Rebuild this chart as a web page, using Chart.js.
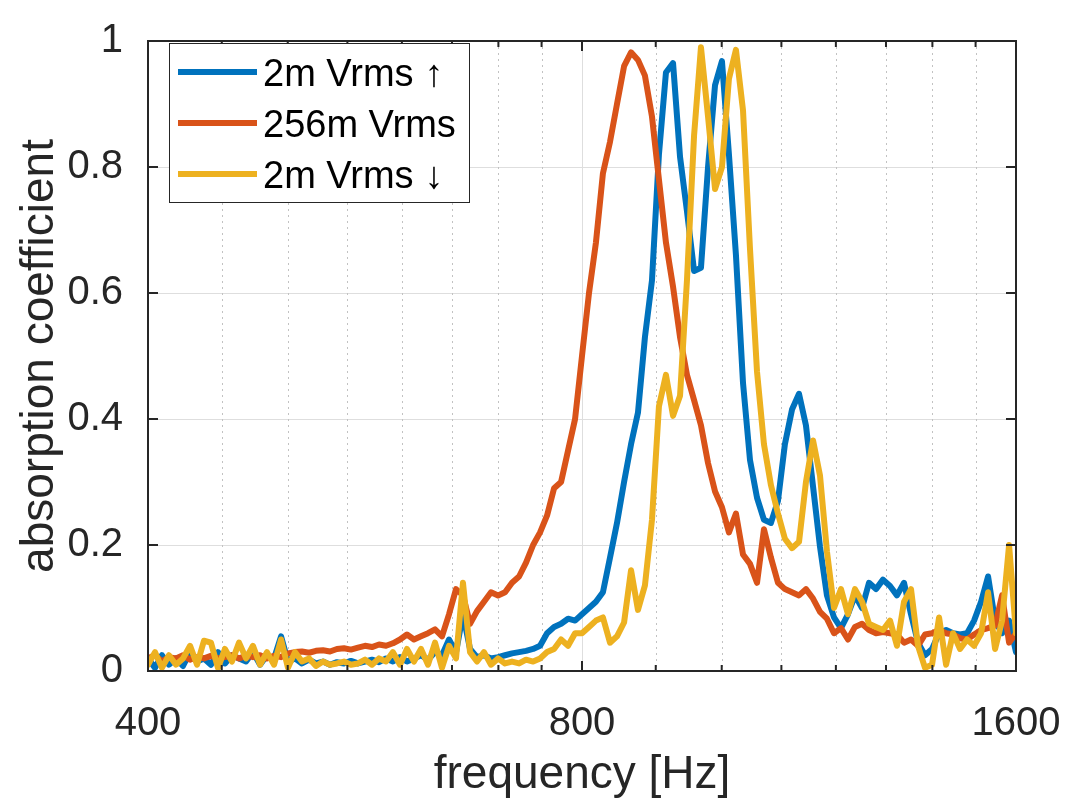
<!DOCTYPE html>
<html>
<head>
<meta charset="utf-8">
<script src="https://cdn.jsdelivr.net/npm/chart.js@4.4.1/dist/chart.umd.min.js"></script>
<style>
  html, body { margin: 0; padding: 0; background: #fff; }
  #wrap { width: 1089px; height: 798px; }
</style>
</head>
<body>
<div id="wrap"><canvas id="chartAbs" width="1089" height="798"></canvas></div>
<script>
// frequency grid [Hz] shared by the three measurements
const freq = [
  400, 404.5, 409, 413.6, 418.3, 423, 427.8, 432.6, 437.4, 442.3,
  447.3, 452.3, 457.4, 462.6, 467.8, 473, 478.4, 483.7, 489.2, 494.7,
  500.2, 505.8, 511.5, 517.3, 523.1, 529, 534.9, 540.9, 547, 553.1,
  559.4, 565.7, 572, 578.5, 585, 591.5, 598.2, 604.9, 611.7, 618.6,
  625.6, 632.6, 639.7, 646.9, 654.2, 661.5, 669, 676.5, 684.1, 691.8,
  699.6, 707.5, 715.4, 723.5, 731.6, 739.9, 748.2, 756.6, 765.1, 773.7,
  782.4, 791.2, 800, 809, 818, 827.2, 836.6, 846, 855.6, 865.2,
  874.8, 884.6, 894.6, 904.6, 914.8, 925.2, 935.6, 946, 956.8, 967.4,
  978.4, 989.4, 1000.4, 1011.6, 1023, 1034.6, 1046.2, 1058, 1069.8, 1081.8,
  1094, 1106.2, 1118.8, 1131.4, 1144, 1157, 1170, 1183, 1196.4, 1209.8,
  1223.4, 1237.2, 1251.2, 1265.2, 1279.4, 1293.8, 1308.4, 1323, 1338, 1353,
  1368.2, 1383.6, 1399.2, 1415, 1431, 1447, 1463.2, 1479.8, 1496.4, 1513.2,
  1530.2, 1547.4, 1564.8, 1582.4, 1600
];

// 2m Vrms, sweep up
const up2m = [
  0.02, 0.005, 0.025, 0.01, 0.02, 0.008, 0.03, 0.015, 0.02, 0.01,
  0.03, 0.012, 0.025, 0.02, 0.015, 0.03, 0.01, 0.025, 0.02, 0.055,
  0.015, 0.02, 0.012, 0.018, 0.012, 0.015, 0.01, 0.014, 0.012, 0.016,
  0.012, 0.015, 0.018, 0.014, 0.02, 0.015, 0.022, 0.015, 0.02, 0.025,
  0.018, 0.03, 0.025, 0.05, 0.03, 0.09, 0.035, 0.022, 0.025, 0.02,
  0.022, 0.025, 0.028, 0.03, 0.032, 0.035, 0.04, 0.06, 0.07, 0.075,
  0.083, 0.08, 0.09, 0.1, 0.11, 0.125, 0.18, 0.235, 0.3, 0.36,
  0.41, 0.53, 0.62, 0.82, 0.95, 0.965, 0.816, 0.73, 0.635, 0.64,
  0.8, 0.93, 0.968, 0.82, 0.66, 0.457, 0.335, 0.275, 0.24, 0.235,
  0.27, 0.36, 0.415, 0.44, 0.39, 0.293, 0.197, 0.12, 0.085, 0.068,
  0.09, 0.12, 0.1, 0.14, 0.13, 0.145, 0.135, 0.12, 0.14, 0.09,
  0.045, 0.025, 0.035, 0.06, 0.065, 0.06, 0.058, 0.06, 0.08, 0.11,
  0.15, 0.08, 0.06, 0.08, 0.03
];

// 256m Vrms
const mid256m = [
  0.02, 0.025, 0.015, 0.022, 0.02, 0.025, 0.018, 0.022, 0.02, 0.024,
  0.02, 0.022, 0.025, 0.02, 0.024, 0.022, 0.025, 0.02, 0.024, 0.022,
  0.028, 0.03, 0.031, 0.029, 0.032, 0.033, 0.031, 0.035, 0.036, 0.034,
  0.037, 0.04, 0.038, 0.042, 0.04, 0.044, 0.05, 0.058, 0.05, 0.055,
  0.06, 0.066, 0.055, 0.09, 0.13, 0.12, 0.075, 0.095, 0.11, 0.125,
  0.12, 0.125, 0.14, 0.15, 0.172, 0.2, 0.22, 0.247, 0.29, 0.3,
  0.35, 0.4, 0.5, 0.6, 0.68, 0.79, 0.84, 0.9, 0.96, 0.982,
  0.97, 0.945, 0.88, 0.78, 0.68, 0.61, 0.53, 0.47, 0.43, 0.39,
  0.33, 0.285, 0.26, 0.22, 0.25, 0.185, 0.17, 0.14, 0.225, 0.18,
  0.14, 0.13, 0.125, 0.12, 0.13, 0.115, 0.094, 0.083, 0.06, 0.068,
  0.05, 0.07, 0.075, 0.065, 0.06, 0.062, 0.06, 0.058, 0.045, 0.05,
  0.04, 0.058, 0.06, 0.065, 0.06, 0.058, 0.052, 0.05, 0.058, 0.065,
  0.068, 0.072, 0.12, 0.045, 0.06
];

// 2m Vrms, sweep down
const down2m = [
  0.01, 0.03, 0.005, 0.025, 0.01, 0.02, 0.04, 0.01, 0.048, 0.045,
  0.005, 0.035, 0.015, 0.045, 0.02, 0.04, 0.01, 0.03, 0.01, 0.05,
  0.005, 0.03, 0.015, 0.02, 0.008, 0.015, 0.01, 0.012, 0.015, 0.01,
  0.012, 0.018, 0.01, 0.02, 0.015, 0.03, 0.01, 0.035, 0.015, 0.035,
  0.01, 0.045, 0.005, 0.04, 0.02, 0.14, 0.03, 0.015, 0.03, 0.01,
  0.02, 0.012, 0.015, 0.012, 0.018, 0.015, 0.02, 0.03, 0.035, 0.05,
  0.04, 0.06, 0.06, 0.07, 0.08, 0.085, 0.045, 0.055, 0.077, 0.16,
  0.097, 0.136, 0.24, 0.42, 0.47, 0.405, 0.437, 0.62, 0.85, 0.99,
  0.88, 0.765, 0.8, 0.94, 0.986, 0.89, 0.67, 0.475, 0.36, 0.295,
  0.25, 0.21, 0.195, 0.205, 0.3, 0.366, 0.31, 0.19, 0.1, 0.13,
  0.09, 0.13, 0.11, 0.075, 0.07, 0.065, 0.08, 0.04, 0.11, 0.13,
  0.04, 0.005, 0.01, 0.085, 0.01, 0.06, 0.035, 0.05, 0.04, 0.06,
  0.125, 0.035, 0.08, 0.2, 0.06
];

const seriesLabels = ['2m Vrms \u2191', '256m Vrms', '2m Vrms \u2193'];
const seriesColors = ['#0072BD', '#D95319', '#EDB120'];

const xTicks = [400, 800, 1600];
const xMinorTicks = [450, 500, 550, 600, 650, 700, 750, 900, 1000, 1100, 1200, 1300, 1400, 1500];
const yTicks = [0, 0.2, 0.4, 0.6, 0.8, 1];
const yTickLabels = ['0', '0.2', '0.4', '0.6', '0.8', '1'];

const FONT = "'Liberation Sans', Arial, Helvetica, sans-serif";
const INK = '#262626';

// MATLAB-like box: grid, inner ticks, framed legend
const axisFrame = {
  id: 'axisFrame',
  beforeDatasetsDraw(chart) {
    const { ctx, chartArea: a, scales: { x, y } } = chart;
    ctx.save();
    ctx.lineWidth = 1;
    ctx.strokeStyle = '#dedede';
    ctx.beginPath();
    yTicks.forEach(v => {
      const py = Math.round(y.getPixelForValue(v)) + 0.5;
      ctx.moveTo(a.left, py); ctx.lineTo(a.right, py);
    });
    xTicks.forEach(v => {
      const px = Math.round(x.getPixelForValue(v)) + 0.5;
      ctx.moveTo(px, a.top); ctx.lineTo(px, a.bottom);
    });
    ctx.stroke();

    ctx.strokeStyle = '#c2c2c2';
    ctx.setLineDash([2, 4]);
    ctx.beginPath();
    xMinorTicks.forEach(v => {
      const px = Math.round(x.getPixelForValue(v)) + 0.5;
      ctx.moveTo(px, a.top); ctx.lineTo(px, a.bottom);
    });
    ctx.stroke();
    ctx.restore();
  },
  afterDatasetsDraw(chart) {
    const { ctx, chartArea: a, scales: { x, y } } = chart;
    ctx.save();
    ctx.strokeStyle = INK;
    ctx.lineWidth = 2;
    ctx.strokeRect(a.left, a.top, a.right - a.left, a.bottom - a.top);

    ctx.beginPath();
    const xTick = (v, len) => {
      const px = x.getPixelForValue(v);
      ctx.moveTo(px, a.bottom); ctx.lineTo(px, a.bottom - len);
      ctx.moveTo(px, a.top); ctx.lineTo(px, a.top + len);
    };
    xTicks.forEach(v => xTick(v, 10));
    xMinorTicks.forEach(v => xTick(v, 6));
    yTicks.forEach(v => {
      const py = y.getPixelForValue(v);
      ctx.moveTo(a.left, py); ctx.lineTo(a.left + 10, py);
      ctx.moveTo(a.right, py); ctx.lineTo(a.right - 10, py);
    });
    ctx.stroke();

    // legend box
    const box = { left: 169.5, top: 43.5, width: 300, height: 159 };
    ctx.fillStyle = '#ffffff';
    ctx.fillRect(box.left, box.top, box.width, box.height);
    ctx.lineWidth = 1;
    ctx.strokeRect(box.left, box.top, box.width, box.height);

    ctx.font = '38px ' + FONT;
    ctx.textAlign = 'left';
    ctx.textBaseline = 'alphabetic';
    chart.data.datasets.forEach((ds, i) => {
      const rowY = 72 + i * 51;
      ctx.strokeStyle = ds.borderColor;
      ctx.lineWidth = 6;
      ctx.beginPath();
      ctx.moveTo(178, rowY); ctx.lineTo(257, rowY);
      ctx.stroke();
      ctx.fillStyle = '#000000';
      ctx.fillText(ds.label, 263, rowY + 14);
    });
    ctx.restore();
  }
};

const series = [up2m, mid256m, down2m];

new Chart(document.getElementById('chartAbs'), {
  type: 'line',
  data: {
    datasets: series.map((vals, i) => ({
      label: seriesLabels[i],
      data: freq.map((f, k) => ({ x: f, y: vals[k] })),
      borderColor: seriesColors[i],
      backgroundColor: seriesColors[i],
      borderWidth: 6,
      pointRadius: 0,
      tension: 0,
      borderJoinStyle: 'round',
      borderCapStyle: 'round',
      order: 3 - i,   // later series drawn on top
      fill: false
    }))
  },
  options: {
    responsive: false,
    animation: false,
    devicePixelRatio: 1,
    layout: { padding: { left: 0, top: 23, right: 73, bottom: 0 } },
    plugins: {
      legend: { display: false },
      tooltip: { enabled: false }
    },
    scales: {
      x: {
        type: 'logarithmic',
        min: 400,
        max: 1600,
        afterBuildTicks: s => { s.ticks = xTicks.map(v => ({ value: v })); },
        afterFit: s => { s.height = 127; },
        grid: { display: false },
        border: { display: false },
        ticks: {
          color: INK,
          font: { family: FONT, size: 40, lineHeight: 1.2 },
          padding: 21,
          maxRotation: 0,
          autoSkip: false,
          callback: v => String(v)
        },
        title: {
          display: true,
          text: 'frequency [Hz]',
          color: INK,
          font: { family: FONT, size: 46, lineHeight: 1 },
          padding: { top: 0, bottom: 0 }
        }
      },
      y: {
        min: 0,
        max: 1,
        afterBuildTicks: s => { s.ticks = yTicks.map(v => ({ value: v })); },
        afterFit: s => { s.width = 148; },
        grid: { display: false },
        border: { display: false },
        ticks: {
          color: INK,
          font: { family: FONT, size: 40, lineHeight: 1.2 },
          padding: 17,
          callback: (v, i) => yTickLabels[i]
        },
        title: {
          display: true,
          text: 'absorption coefficient',
          color: INK,
          font: { family: FONT, size: 46, lineHeight: 1 },
          padding: { top: 17, bottom: 0 }
        }
      }
    }
  },
  plugins: [axisFrame]
});
</script>
</body>
</html>
